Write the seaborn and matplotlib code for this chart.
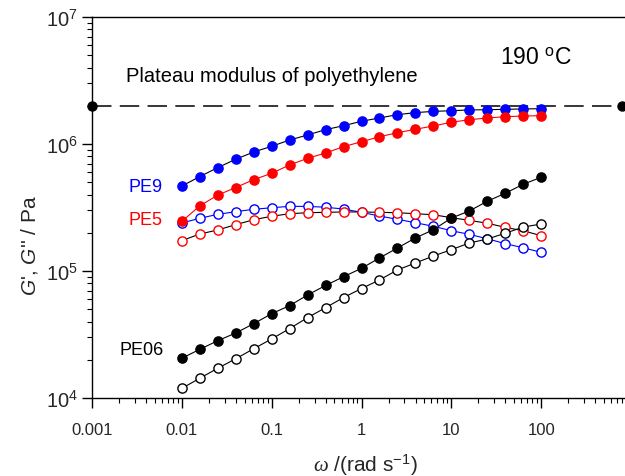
import numpy as np
import pandas as pd
import matplotlib
matplotlib.use("Agg")
import matplotlib.pyplot as plt
import matplotlib.ticker as mticker
import seaborn as sns

# ---------------- data ----------------
freq = [0.01, 0.0158, 0.0251, 0.0398, 0.0631, 0.1, 0.158, 0.251, 0.398, 0.631,
        1.0, 1.58, 2.51, 3.98, 6.31, 10.0, 15.8, 25.1, 39.8, 63.1, 100.0]

pe9_g1 = [466700, 553400, 651600, 758600, 865000, 959400, 1074000, 1178000, 1297000, 1393000,
          1510000, 1603000, 1702000, 1766000, 1807000, 1828000, 1854000, 1862000, 1875000, 1888000, 1897000]
pe9_g2 = [238800, 260000, 279300, 293100, 306200, 314800, 322800, 322800, 317700, 307600,
          289700, 271000, 255300, 239900, 224900, 207500, 194500, 179500, 164100, 152400, 140300]
pe5_g1 = [246000, 325100, 396300, 453900, 524800, 587500, 683900, 770900, 849200, 952800,
          1042000, 1140000, 1227000, 1306000, 1387000, 1483000, 1552000, 1603000, 1641000, 1660000, 1671000]
pe5_g2 = [173400, 195400, 210400, 231700, 253500, 269800, 282500, 287700, 289700, 291700,
          291700, 289700, 287700, 282500, 277300, 263000, 250600, 237700, 220800, 207500, 189700]
pe06_g1 = [20560, 24150, 28250, 32510, 38460, 46130, 53330, 64710, 76910, 90160,
           105000, 126500, 151700, 182000, 211300, 261200, 296500, 354000, 409300, 481900, 547000]
pe06_g2 = [11910, 14290, 17140, 20370, 24430, 29170, 35160, 42950, 51400, 61800,
           72780, 84920, 101900, 115600, 131200, 147200, 166000, 178600, 198200, 221800, 234400]

plateau_x = [0.001, 800]
plateau_y = [2.0e6, 2.0e6]

x_ticks = [0.001, 0.01, 0.1, 1, 10, 100, 1000]
x_tick_labels = ["0.001", "0.01", "0.1", "1", "10", "100", ""]

series_names = ["PE9 G'", "PE9 G''", "PE5 G'", "PE5 G''", "PE06 G'", "PE06 G''"]
series_vals = [pe9_g1, pe9_g2, pe5_g1, pe5_g2, pe06_g1, pe06_g2]
# (line colour, marker edge colour, marker face colour)
series_style = [("black", "blue", "blue"),
                ("blue", "blue", "white"),
                ("red", "red", "red"),
                ("black", "red", "white"),
                ("black", "black", "black"),
                ("black", "black", "white")]

# ---------------- style ----------------
sns.set_style("ticks")
plt.rcParams["font.family"] = ["Liberation Sans", "DejaVu Sans"]
plt.rcParams["mathtext.fontset"] = "custom"
plt.rcParams["mathtext.rm"] = "Liberation Sans"
plt.rcParams["mathtext.it"] = "Liberation Serif:italic"
plt.rcParams["mathtext.sf"] = "Liberation Sans:italic"
plt.rcParams["mathtext.bf"] = "Liberation Sans:bold"
plt.rcParams["lines.scale_dashes"] = False

W, H = 625, 477
fig = plt.figure(figsize=(W / 100, H / 100), dpi=100)
ax = fig.add_axes([92 / W, 1 - 399 / H, 539 / W, 381 / H])

# plateau line
ax.plot(plateau_x, plateau_y, color="black", lw=1.1, dashes=(14, 6), zorder=2)
ax.plot(plateau_x, plateau_y, ls="none", marker="o", ms=6.5, color="black", zorder=3, clip_on=False)

for name, vals, (lc, ec, fc) in zip(series_names, series_vals, series_style):
    df = pd.DataFrame({"freq": freq, "G": vals})
    sns.lineplot(data=df, x="freq", y="G", color=lc, lw=0.8, sort=False,
                 estimator=None, ax=ax, zorder=2)
    sns.scatterplot(data=df, x="freq", y="G", s=44, marker="o",
                    facecolor=fc, edgecolor=ec, linewidth=1.0, ax=ax, zorder=3)

ax.set_xscale("log")
ax.set_yscale("log")
ax.set_xlim(0.001, 1000)
ax.set_ylim(1e4, 1e7)

ax.xaxis.set_major_locator(mticker.FixedLocator(x_ticks))
ax.xaxis.set_major_formatter(mticker.FixedFormatter(x_tick_labels))
ax.xaxis.set_minor_locator(mticker.LogLocator(base=10, subs=np.arange(2, 10), numticks=20))
ax.xaxis.set_minor_formatter(mticker.NullFormatter())
ax.yaxis.set_major_locator(mticker.FixedLocator([1e4, 1e5, 1e6, 1e7]))
ax.yaxis.set_major_formatter(mticker.LogFormatterSciNotation())
ax.yaxis.set_minor_locator(mticker.LogLocator(base=10, subs=np.arange(2, 10), numticks=20))
ax.yaxis.set_minor_formatter(mticker.NullFormatter())

for s in ["left", "bottom", "top", "right"]:
    ax.spines[s].set_visible(True)
    ax.spines[s].set_color("black")
    ax.spines[s].set_linewidth(1.0)

ax.tick_params(which="major", direction="out", length=7, width=1, color="black")
ax.tick_params(which="minor", direction="out", length=3.6, width=0.8, color="black")
ax.tick_params(axis="x", which="major", labelsize=12, pad=10)
ax.tick_params(axis="y", which="major", labelsize=14.5, pad=3)
ax.tick_params(top=False, right=False, which="both")
ax.grid(False)

ax.set_xlabel(r"$\omega$ /(rad s$^{-1}$)", fontsize=15)
ax.xaxis.set_label_coords((365 - 92) / 539, (399 - 453) / 381)
ax.set_ylabel(r"$\mathsf{G}$', $\mathsf{G}$'' / Pa", fontsize=15)
ax.yaxis.set_label_coords((40 - 92) / 539, (399 - 246) / 381)

def ftext(px, py, s, **kw):
    fig.text(px / W, 1 - py / H, s, va="center", ha="left", **kw)

ftext(126, 77, "Plateau modulus of polyethylene", fontsize=14.5, color="black")
ftext(500, 58, r"190 $^{\mathregular{o}}$C", fontsize=16.5, color="black")
ftext(128, 188, "PE9", fontsize=13, color="blue")
ftext(128, 221, "PE5", fontsize=13, color="red")
ftext(119, 351, "PE06", fontsize=13, color="black")

fig.savefig("out.png", dpi=100)
